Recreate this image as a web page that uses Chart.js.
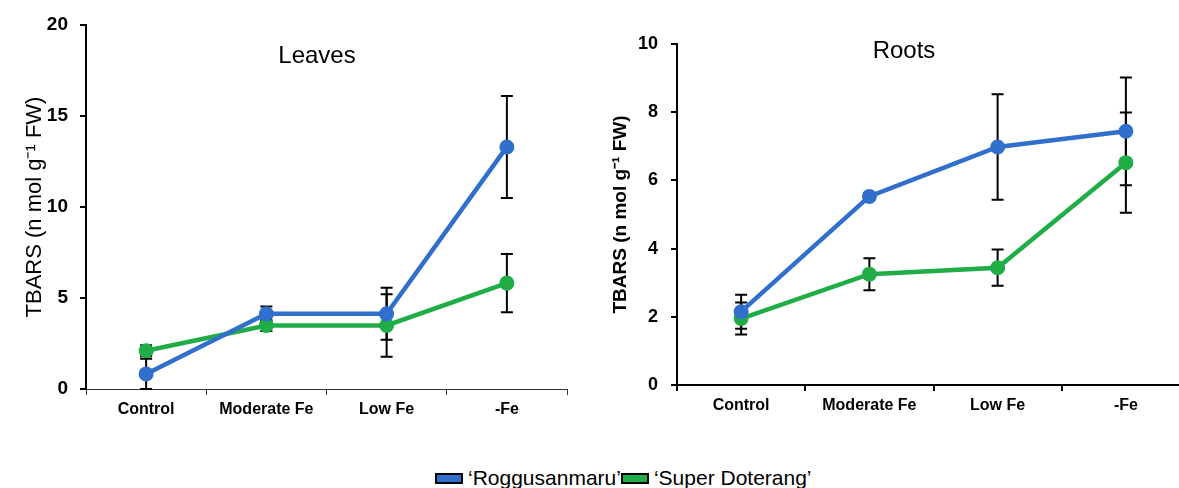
<!DOCTYPE html>
<html>
<head>
<meta charset="utf-8">
<script src="https://cdn.jsdelivr.net/npm/chart.js@4/dist/chart.umd.min.js"></script>
<style>
  html, body { margin: 0; padding: 0; background: #fff; overflow: hidden; }
  #wrap { position: relative; width: 1179px; height: 488px; overflow: hidden; }
  #leaves { position: absolute; left: 0; top: 0; }
  #roots { position: absolute; left: 560px; top: 0; }
  .legend {
    position: absolute; left: 435px; top: 466px;
    font-family: 'Liberation Sans', Arial, sans-serif; font-size: 21px; color: #000;
    display: flex; align-items: center; white-space: nowrap;
  }
  .legend .box {
    display: inline-block; width: 24px; height: 7px; border: 2px solid #000; margin-right: 5px;
  }
</style>
</head>
<body>
<div id="wrap">
  <canvas id="leaves" width="600" height="440"></canvas>
  <canvas id="roots" width="650" height="440"></canvas>
  <div class="legend" id="legend"></div>
</div>
<script>
// categories on the x axis
const categories = ['Control', 'Moderate Fe', 'Low Fe', '-Fe'];
const seriesNames = ['\u2018Roggusanmaru\u2019', '\u2018Super Doterang\u2019'];

// Leaves, TBARS (n mol g-1 FW)
const leavesRogg = [0.83, 4.13, 4.13, 13.3];
const leavesRoggErr = [0.83, 0.4, 1.43, 2.8];
const leavesSuper = [2.1, 3.49, 3.49, 5.82];
const leavesSuperErr = [0.3, 0.3, 1.72, 1.6];

// Roots, TBARS (n mol g-1 FW)
const rootsRogg = [2.15, 5.53, 6.98, 7.44];
const rootsRoggErr = [0.5, 0.1, 1.55, 1.58];
const rootsSuper = [1.95, 3.25, 3.44, 6.52];
const rootsSuperErr = [0.47, 0.47, 0.53, 1.47];

const BLUE = '#306fcb';
const GREEN = '#20ad48';
const TICK_FONT = "'Liberation Sans', Arial, sans-serif";

// draws the +/- error bars, using the chart's own scales
const errorBars = {
  id: 'errorBars',
  beforeDatasetsDraw(chart) {
    const ctx = chart.ctx;
    const yScale = chart.scales.y;
    ctx.save();
    ctx.strokeStyle = '#000';
    ctx.lineWidth = 2;
    chart.data.datasets.forEach((ds, i) => {
      const meta = chart.getDatasetMeta(i);
      meta.data.forEach((pt, j) => {
        const v = ds.data[j];
        const e = ds.errors[j];
        const top = yScale.getPixelForValue(v + e);
        const bot = yScale.getPixelForValue(v - e);
        ctx.beginPath();
        ctx.moveTo(pt.x, top);
        ctx.lineTo(pt.x, bot);
        ctx.moveTo(pt.x - 6, top);
        ctx.lineTo(pt.x + 6, top);
        ctx.moveTo(pt.x - 6, bot);
        ctx.lineTo(pt.x + 6, bot);
        ctx.stroke();
      });
    });
    ctx.restore();
  },
};

// panel name inside the plot area
const panelTitle = {
  id: 'panelTitle',
  afterDraw(chart, args, opts) {
    const ctx = chart.ctx;
    ctx.save();
    ctx.font = opts.font;
    ctx.fillStyle = '#000';
    ctx.textAlign = 'center';
    ctx.textBaseline = 'middle';
    ctx.fillText(opts.text, opts.x, opts.y);
    ctx.restore();
  },
};

function dataset(label, values, errors, color) {
  return {
    label: label,
    data: values,
    errors: errors,
    borderColor: color,
    backgroundColor: color,
    borderWidth: 4.5,
    pointRadius: 7.5,
    pointBorderWidth: 0,
    pointBackgroundColor: color,
    tension: 0,
  };
}

function makeChart(id, cfg) {
  return new Chart(document.getElementById(id), {
    type: 'line',
    data: {
      labels: categories,
      datasets: [
        dataset(seriesNames[0], cfg.rogg, cfg.roggErr, BLUE),
        dataset(seriesNames[1], cfg.sup, cfg.supErr, GREEN),
      ],
    },
    plugins: [errorBars, panelTitle],
    options: {
      responsive: false,
      animation: false,
      layout: {padding: cfg.padding},
      plugins: {
        legend: {display: false},
        tooltip: {enabled: false},
        panelTitle: cfg.title,
      },
      scales: {
        x: {
          type: 'category',
          offset: true,
          afterFit: (s) => { s.height = cfg.xHeight; },
          grid: {drawOnChartArea: false, drawTicks: true, tickLength: 6, offset: true, color: cfg.xColor, lineWidth: cfg.xWidth},
          border: {color: cfg.xColor, width: cfg.xWidth},
          ticks: {color: '#000', maxRotation: 0, padding: 5, font: {family: TICK_FONT, size: cfg.catSize, weight: 'bold'}},
        },
        y: {
          min: 0,
          max: cfg.max,
          afterFit: (s) => { s.width = cfg.yWidth; },
          grid: {drawOnChartArea: false, drawTicks: true, tickLength: 6, color: '#000', lineWidth: 2},
          border: {color: '#000', width: 2},
          ticks: {stepSize: cfg.step, color: '#000', padding: cfg.tickPad, font: {family: TICK_FONT, size: cfg.tickSize, weight: 'bold'}},
          title: {display: true, text: 'TBARS (n mol g\u207B\u00B9 FW)', color: '#000', font: cfg.yTitleFont},
        },
      },
    },
  });
}

makeChart('leaves', {
  rogg: leavesRogg, roggErr: leavesRoggErr, sup: leavesSuper, supErr: leavesSuperErr,
  max: 20, step: 5,
  padding: {left: 18, top: 25, right: 33, bottom: 0},
  xHeight: 51, yWidth: 68,
  xColor: '#333', xWidth: 1,
  catSize: 16, tickSize: 19, tickPad: 12,
  yTitleFont: {family: "'Liberation Sans', Arial, sans-serif", size: 22},
  title: {text: 'Leaves', x: 317, y: 56, font: "24px 'Liberation Sans', Arial, sans-serif"},
});

makeChart('roots', {
  rogg: rootsRogg, roggErr: rootsRoggErr, sup: rootsSuper, supErr: rootsSuperErr,
  max: 10, step: 2,
  padding: {left: 45, top: 44, right: 20, bottom: 0},
  xHeight: 55, yWidth: 72,
  xColor: '#000', xWidth: 2,
  catSize: 16, tickSize: 18, tickPad: 13,
  yTitleFont: {family: TICK_FONT, size: 19, weight: 'bold'},
  title: {text: 'Roots', x: 344, y: 51, font: "24px 'Liberation Sans', Arial, sans-serif"},
});

// shared legend under both panels
const legend = document.getElementById('legend');
[BLUE, GREEN].forEach((c, i) => {
  const box = document.createElement('span');
  box.className = 'box';
  box.style.background = c;
  const txt = document.createElement('span');
  txt.textContent = seriesNames[i];
  legend.appendChild(box);
  legend.appendChild(txt);
});
</script>
</body>
</html>
